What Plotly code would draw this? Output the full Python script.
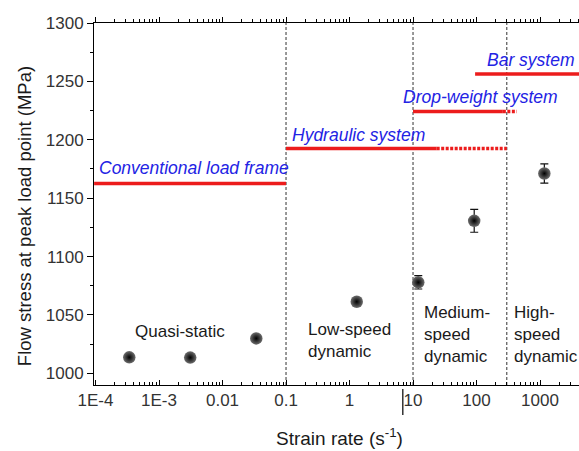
import plotly.graph_objects as go
import numpy as np

# ---- data ----
strain_rate = [3.4e-4, 3.1e-3, 0.034, 1.3, 12.1, 92, 1170]
flow_stress = [1013.7, 1013.5, 1029.9, 1061.3, 1077.9, 1130.6, 1171.1]
stress_err = [3, 3, 3, 3, 5.7, 9.8, 8.3]

# test-system ranges (x start, solid end, dotted end, stress level)
systems = [
    ("Conventional load frame", 9.5e-5, 0.1, None, 1162.6),
    ("Hydraulic system", 0.1, 23.6, 300, 1192.5),
    ("Drop-weight system", 10, 260, 430, 1224.2),
    ("Bar system", 95, 6000, None, 1256.4),
]
# label positions: (log10 x of left edge, stress at centre)
system_label_pos = [(-3.976, 1175.7), (-0.937, 1203.9), (0.806, 1236.7), (2.134, 1268.1)]

regime_dividers = [0.1, 10, 300]
regime_labels = ["Quasi-static", "Low-speed<br>dynamic", "Medium-<br>speed<br>dynamic", "High-<br>speed<br>dynamic"]
regime_label_pos = [(-3.405, 1035.6), (-0.685, 1028.5), (1.137, 1033.6), (2.554, 1033.6)]

tick_vals = [1e-4, 1e-3, 0.01, 0.1, 1, 10, 100, 1000]
tick_text = ["1E-4", "1E-3", "0.01", "0.1", "1", "10", "100", "1000"]
minor_vals = [m * 10.0 ** e for e in range(-4, 4) for m in range(2, 10)]

y_range = [990, 1300]
x_range = [-4.024, 3.614]

FONT = "Liberation Sans, Arial, sans-serif"
RED = "#ec1c1c"
BLUE = "#2323e4"

fig = go.Figure()

# vertical dashed regime dividers
for xv in regime_dividers:
    fig.add_trace(go.Scatter(x=[xv, xv], y=y_range, mode="lines",
                             line=dict(color="#333333", width=1, dash="3px,2px"),
                             hoverinfo="skip", showlegend=False))

# system lines
for name, x0, x1, x2, yv in systems:
    fig.add_trace(go.Scatter(x=[x0, x1], y=[yv, yv], mode="lines",
                             line=dict(color=RED, width=3.5), showlegend=False))
    if x2 is not None:
        fig.add_trace(go.Scatter(x=[x1, x2], y=[yv, yv], mode="lines",
                                 line=dict(color=RED, width=3.5, dash="3px,1.5px"),
                                 showlegend=False))

# data points
fig.add_trace(go.Scatter(
    x=strain_rate, y=flow_stress, mode="markers",
    marker=dict(size=12.5, color="#6e6e6e", gradient=dict(type="radial", color="#000000"),
                line=dict(width=0)),
    error_y=dict(type="data", array=stress_err, visible=True, color="#111111",
                 thickness=1.2, width=4),
    showlegend=False))

# invisible trace for top axis
fig.add_trace(go.Scatter(x=[1], y=[1000], xaxis="x2", mode="markers",
                         marker=dict(opacity=0), showlegend=False, hoverinfo="skip"))

annotations = []
for (name, *_), (lx, ly) in zip(systems, system_label_pos):
    annotations.append(dict(x=lx, y=ly, xref="x", yref="y", text=f"<i>{name}</i>",
                            showarrow=False, xanchor="left", yanchor="middle",
                            font=dict(family=FONT, size=17.5, color=BLUE)))
for txt, (lx, ly) in zip(regime_labels, regime_label_pos):
    annotations.append(dict(x=lx, y=ly, xref="x", yref="y", text=txt, align="left",
                            showarrow=False, xanchor="left", yanchor="middle",
                            font=dict(family=FONT, size=17, color="#1a1a1a")))
annotations.append(dict(x=-0.1443, y=0.4665, xref="paper", yref="paper",
                        text="Flow stress at peak load point (MPa)", textangle=-90,
                        showarrow=False, xanchor="center", yanchor="middle",
                        font=dict(family=FONT, size=18.5, color="#1a1a1a")))
annotations.append(dict(x=0.507, y=-0.1427, xref="paper", yref="paper",
                        text="Strain rate (s<sup>-1</sup>)",
                        showarrow=False, xanchor="center", yanchor="middle",
                        font=dict(family=FONT, size=19, color="#1a1a1a")))

axis_common = dict(type="log", range=x_range, showgrid=False, zeroline=False,
                   showline=True, linecolor="black", linewidth=1)

fig.update_layout(
    width=579, height=451,
    margin=dict(l=94, r=0, t=23, b=66),
    paper_bgcolor="white", plot_bgcolor="white",
    font=dict(family=FONT, size=17, color="#333333"),
    xaxis=dict(**axis_common, tickvals=tick_vals, ticktext=tick_text,
               ticks="inside", ticklen=5, tickcolor="black",
               minor=dict(tickvals=minor_vals, ticks="inside", ticklen=3, tickcolor="black"),
               tickfont=dict(family=FONT, size=17, color="#333333")),
    xaxis2=dict(**axis_common, overlaying="x", side="top", anchor="y",
                tickvals=tick_vals, showticklabels=False,
                ticks="outside", ticklen=5, tickcolor="black",
                minor=dict(tickvals=minor_vals, ticks="outside", ticklen=3, tickcolor="black")),
    yaxis=dict(range=y_range, showgrid=False, zeroline=False, showline=True,
               linecolor="black", linewidth=1, tickvals=[1000, 1050, 1100, 1150, 1200, 1250, 1300],
               ticks="outside", ticklen=6, tickcolor="black",
               minor=dict(dtick=25, ticks="outside", ticklen=3, tickcolor="black"),
               tickfont=dict(family=FONT, size=17, color="#333333")),
    annotations=annotations,
    shapes=[dict(type="line", xref="x", yref="paper", x0=6.9, x1=6.9, y0=-0.011, y1=-0.083,
                 line=dict(color="#333333", width=1.5))],
)

fig.write_html("out.html")
